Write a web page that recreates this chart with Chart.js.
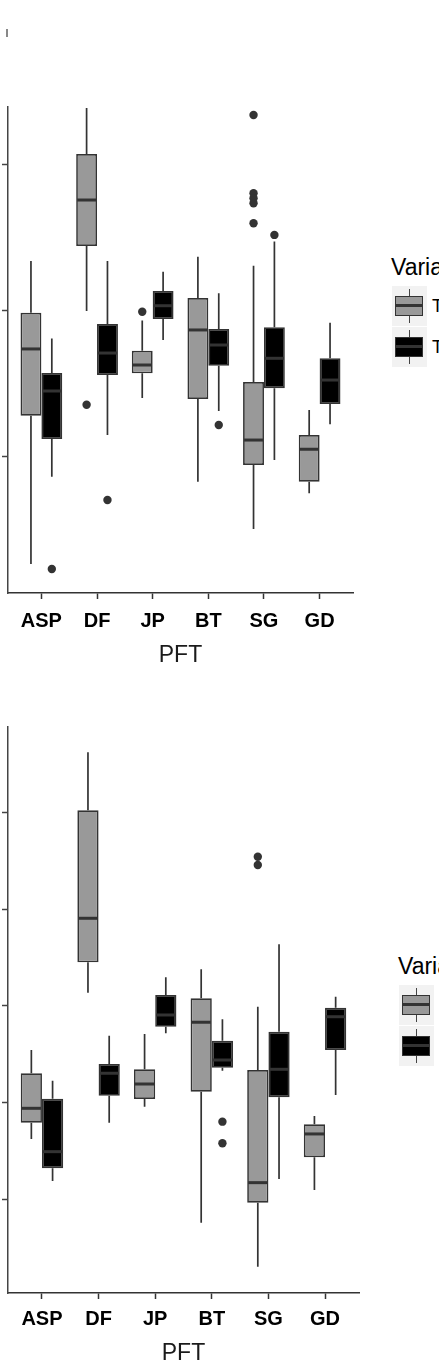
<!DOCTYPE html>
<html>
<head>
<meta charset="utf-8">
<script src="https://cdn.jsdelivr.net/npm/chart.js@4/dist/chart.umd.min.js"></script>
<style>
  html, body { margin: 0; padding: 0; background: #fff; }
  body { position: relative; width: 439px; height: 1362px; overflow: hidden;
         font-family: "Liberation Sans", Arial, sans-serif; }
  .panel { position: absolute; left: 0; }
  .stub { position: absolute; left: 6px; top: 29px; width: 2px; height: 8px; background: #888; }
  .legend-title { position: absolute; font-size: 23px; line-height: 23px; color: #000; white-space: nowrap; }
  .key { position: absolute; width: 35px; height: 40px; background: #f2f2f2; }
  .key .wh { position: absolute; left: 16.5px; top: 3px; width: 1.5px; height: 34px; background: #444; }
  .key .bx { position: absolute; left: 3px; top: 10px; width: 28px; height: 20px; box-sizing: border-box; border: 1.5px solid #333; }
  .key .md { position: absolute; left: 0; top: 7px; width: 100%; height: 3px; background: #333; }
  .key-label { position: absolute; font-size: 18px; line-height: 18px; color: #000; white-space: nowrap; }
</style>
</head>
<body>
<div class="stub"></div>
<div class="panel" style="top:100px;width:360px;height:580px"><canvas id="top"></canvas></div>
<div class="panel" style="top:720px;width:366px;height:655px"><canvas id="bottom"></canvas></div>

<script>
// categories and fill groups
const pft = ['ASP', 'DF', 'JP', 'BT', 'SG', 'GD'];
const groups = ['T1', 'T2'];
const groupFill = ['#999999', '#000000'];

// each row: [lower whisker, Q1, median, Q3, upper whisker], one per PFT
const topGrey = [
  [2.67, 12.83, 17.40, 19.88, 23.42],
  [20.00, 24.45, 27.60, 30.75, 33.90],
  [14.04, 15.73, 16.30, 17.28, 19.34],
  [8.31, 13.97, 18.70, 20.89, 23.72],
  [5.07, 9.45, 11.16, 15.14, 23.10],
  [7.51, 8.31, 10.53, 11.51, 13.22],
];
const topBlack = [
  [8.65, 11.23, 14.52, 15.75, 18.12],
  [11.51, 15.62, 17.12, 19.11, 23.42],
  [18.01, 19.45, 20.36, 21.37, 22.69],
  [13.15, 16.25, 17.67, 18.77, 21.21],
  [9.79, 14.71, 16.76, 18.88, 24.75],
  [12.24, 13.63, 15.27, 16.76, 19.20],
];
const topGreyOut = [[], [13.58], [19.95], [], [33.42, 28.06, 27.72, 27.38, 26.01], []];
const topBlackOut = [[2.33], [7.05], [], [12.19], [25.21], []];
const topYTicks = [10, 20, 30];

const botGrey = [
  [16.25, 17.93, 19.42, 23.04, 25.44],
  [31.36, 34.50, 39.05, 50.21, 56.20],
  [19.59, 20.38, 21.93, 23.45, 27.10],
  [7.60, 21.14, 28.31, 30.79, 33.78],
  [3.06, 9.67, 11.74, 23.38, 29.92],
  [10.98, 14.36, 16.77, 17.77, 18.63],
];
const botBlack = [
  [11.91, 13.22, 14.94, 20.41, 22.27],
  [17.93, 20.72, 23.04, 24.00, 26.92],
  [27.17, 27.85, 29.06, 31.13, 32.95],
  [23.31, 23.62, 24.41, 26.40, 28.62],
  [12.12, 20.56, 23.45, 27.33, 36.36],
  [20.80, 25.44, 28.88, 29.81, 30.95],
];
const botGreyOut = [[], [], [], [], [45.41, 44.56], []];
const botBlackOut = [[], [], [], [18.04, 15.81], [], []];
const botYTicks = [10, 20, 30, 40, 50];

// ggplot dodge: two boxes share 0.75 of a slot
const DODGE = 0.75 / 4;
const FONT = '"Liberation Sans", Arial, sans-serif';
const LINE = '#333333';

// whiskers go under the boxes, medians on top
const boxExtras = {
  id: 'boxExtras',
  beforeDatasetsDraw(chart) { drawParts(chart, 'whisker'); },
  afterDatasetsDraw(chart) { drawParts(chart, 'median'); },
};

function drawParts(chart, part) {
  const y = chart.scales.y;
  const ctx = chart.ctx;
  ctx.save();
  ctx.strokeStyle = LINE;
  chart.data.datasets.forEach((ds, d) => {
    if (!ds.stats) return;
    chart.getDatasetMeta(d).data.forEach((el, i) => {
      const [lo, q1, med, q3, hi] = ds.stats[i];
      ctx.beginPath();
      if (part === 'whisker') {
        ctx.lineWidth = 1.7;
        ctx.moveTo(el.x, y.getPixelForValue(hi));
        ctx.lineTo(el.x, y.getPixelForValue(q3));
        ctx.moveTo(el.x, y.getPixelForValue(q1));
        ctx.lineTo(el.x, y.getPixelForValue(lo));
      } else {
        ctx.lineWidth = 3;
        const py = y.getPixelForValue(med);
        ctx.moveTo(el.x - el.width / 2 + 1, py);
        ctx.lineTo(el.x + el.width / 2 - 1, py);
      }
      ctx.stroke();
    });
  });
  ctx.restore();
}

function boxDataset(stats, g) {
  return {
    type: 'bar',
    label: groups[g],
    stats,
    data: stats.map((r, i) => ({ x: i + 1, y: [r[1], r[3]] })),
    backgroundColor: groupFill[g],
    borderColor: LINE,
    borderWidth: 1.7,
    borderSkipped: false,
    categoryPercentage: 0.75,
    barPercentage: 1,
  };
}

function outlierDataset(outs, g) {
  const shift = g === 0 ? -DODGE : DODGE;
  const pts = [];
  outs.forEach((vals, i) => vals.forEach((v) => pts.push({ x: i + 1 + shift, y: v })));
  return {
    type: 'scatter',
    data: pts,
    pointRadius: 4.2,
    pointBackgroundColor: LINE,
    pointBorderWidth: 0,
  };
}

function makePanel(id, cfg) {
  new Chart(document.getElementById(id), {
    type: 'bar',
    data: {
      datasets: [
        boxDataset(cfg.grey, 0),
        boxDataset(cfg.black, 1),
        outlierDataset(cfg.greyOut, 0),
        outlierDataset(cfg.blackOut, 1),
      ],
    },
    plugins: [boxExtras],
    options: {
      animation: false,
      responsive: true,
      maintainAspectRatio: false,
      layout: { padding: { top: 7, right: 7, left: 0, bottom: 0 } },
      plugins: { legend: { display: false }, tooltip: { enabled: false } },
      scales: {
        x: {
          type: 'linear',
          min: 0.4,
          max: 6.6,
          offset: false,
          afterBuildTicks: (s) => { s.ticks = pft.map((_, i) => ({ value: i + 1 })); },
          afterFit: (s) => { s.height = cfg.xHeight; },
          ticks: {
            callback: (v) => pft[v - 1] || '',
            font: { family: FONT, size: 20, weight: 'bold' },
            color: '#000',
            padding: cfg.tickPad,
            maxRotation: 0,
            autoSkip: false,
          },
          grid: { offset: false, drawOnChartArea: false, tickLength: 6, tickWidth: 1.5, tickColor: LINE },
          border: { display: true, color: LINE, width: 1.5 },
          title: {
            display: true,
            text: 'PFT',
            font: { family: FONT, size: 23 },
            color: '#1a1a1a',
            padding: { top: 0, bottom: cfg.titlePad },
          },
        },
        y: {
          min: cfg.yMin,
          max: cfg.yMax,
          afterBuildTicks: (s) => { s.ticks = cfg.yTicks.map((v) => ({ value: v })); },
          afterFit: (s) => { s.width = 8; },
          ticks: { display: false },
          grid: { drawOnChartArea: false, tickLength: 6, tickWidth: 1.5, tickColor: '#444' },
          border: { display: true, color: '#444', width: 1.5 },
        },
      },
    },
  });
}

function makeLegend(left, top, keyLeft, keyTop) {
  const t = document.createElement('div');
  t.className = 'legend-title';
  t.style.left = left + 'px';
  t.style.top = top + 'px';
  t.textContent = 'Variable';
  document.body.appendChild(t);
  groups.forEach((name, g) => {
    const key = document.createElement('div');
    key.className = 'key';
    key.style.left = keyLeft + 'px';
    key.style.top = (keyTop + g * 41) + 'px';
    key.innerHTML = '<div class="wh"></div><div class="bx" style="background:' + groupFill[g] + '"><div class="md"></div></div>';
    document.body.appendChild(key);
    const lab = document.createElement('div');
    lab.className = 'key-label';
    lab.style.left = (keyLeft + 40) + 'px';
    lab.style.top = (keyTop + g * 41 + 11) + 'px';
    lab.textContent = name;
    document.body.appendChild(lab);
  });
}

makePanel('top', {
  grey: topGrey, black: topBlack, greyOut: topGreyOut, blackOut: topBlackOut,
  yMin: 0.685, yMax: 33.97, yTicks: topYTicks,
  xHeight: 87, tickPad: 10, titlePad: 11,
});
makePanel('bottom', {
  grey: botGrey, black: botBlack, greyOut: botGreyOut, blackOut: botBlackOut,
  yMin: 0.34, yMax: 58.81, yTicks: botYTicks,
  xHeight: 82, tickPad: 8, titlePad: 8,
});

makeLegend(391, 256, 392, 286);
makeLegend(398, 955, 399, 985);
</script>
</body>
</html>
